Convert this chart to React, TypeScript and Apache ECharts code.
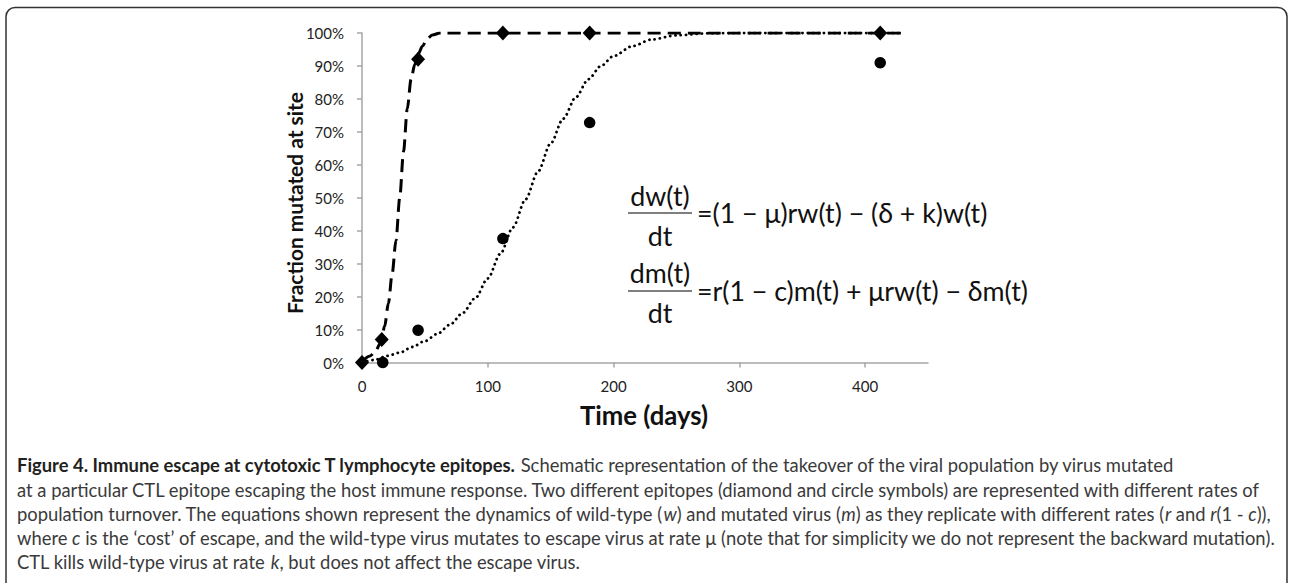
import React, { useEffect, useRef } from "react";
import * as echarts from "echarts";

// ---- data ----
const xTickValues = [0, 100, 200, 300, 400];
const yTickValues = [0, 10, 20, 30, 40, 50, 60, 70, 80, 90, 100];

// epitope 1 (diamonds), fraction mutated (%)
const diamondDays = [0, 15.7, 44.6, 112, 181, 412];
const diamondPct = [0, 7, 92, 100, 100, 100];

// epitope 2 (circles)
const circleDays = [16.5, 44.6, 112, 181, 412];
const circlePct = [0, 9.8, 37.6, 72.8, 91];

// fitted curve for epitope 1 (dashed)
const fastDays = [0, 6.4, 10, 15, 18, 21, 24, 27, 30, 33, 36, 39, 42, 45, 48, 52, 56, 62, 112, 181, 300, 430];
const fastPct = [0.3, 2, 3, 6, 11, 18, 27, 37, 50, 64, 77, 86, 90.5, 93.8, 96, 98.3, 99.4, 100, 100, 100, 100, 100];

// fitted curve for epitope 2 (dotted)
const slowDays = [0, 10, 20, 30, 40, 50, 60, 70, 80, 90, 100, 110, 120, 130, 140, 150, 160, 170, 180, 190, 200, 215, 230, 250, 275, 300, 430];
const slowPct = [0, 0.8, 2, 3, 4.7, 6.5, 8.7, 11.5, 15, 19.5, 25.5, 33, 41, 49.5, 58, 66.5, 74, 80.5, 86, 90, 93, 96, 98, 99.3, 99.9, 100, 100];

const yTitle = "Fraction mutated at site";
const xTitle = "Time (days)";

const eq1Num = "dw(t)";
const eq1Den = "dt";
const eq1Rhs = "=(1 − μ)rw(t) − (δ + k)w(t)";
const eq2Num = "dm(t)";
const eq2Den = "dt";
const eq2Rhs = "=r(1 − c)m(t) + μrw(t) − δm(t)";

const captionLines = [
  "{b|Figure 4. Immune escape at cytotoxic T lymphocyte epitopes.}{n| Schematic representation of the takeover of the viral population by virus mutated}",
  "{n|at a particular CTL epitope escaping the host immune response. Two different epitopes (diamond and circle symbols) are represented with different rates of}",
  "{n|population turnover. The equations shown represent the dynamics of wild-type (}{i|w}{n|) and mutated virus (}{i|m}{n|) as they replicate with different rates (}{i|r}{n| and }{i|r}{n|(1 - }{i|c}{n|)),}",
  "{n|where }{i|c}{n| is the ‘cost’ of escape, and the wild-type virus mutates to escape virus at rate μ (note that for simplicity we do not represent the backward mutation).}",
  "{n|CTL kills wild-type virus at rate }{i|k}{n|, but does not affect the escape virus.}",
];
const captionMeasureLine =
  "at a particular CTL epitope escaping the host immune response. Two different epitopes (diamond and circle symbols) are represented with different rates of";

const FONT = "Lato";

function fitSize(text: string, weight: string, target: number): number {
  const c = document.createElement("canvas");
  const ctx = c.getContext("2d");
  if (!ctx) return 16;
  ctx.font = `${weight} 100px ${FONT}`;
  const w = ctx.measureText(text).width;
  return (100 * target) / w;
}

export default function App() {
  const ref = useRef<HTMLDivElement>(null);

  useEffect(() => {
    if (!ref.current) return;
    const chart = echarts.init(ref.current, undefined, { renderer: "svg" });

    const eqSize = fitSize(eq1Rhs, "normal", 290);
    const yTitleSize = fitSize(yTitle, "bold", 222);
    const xTitleSize = fitSize(xTitle, "bold", 128);
    const capSize = fitSize(captionMeasureLine, "normal", 1245);

    const capRich = {
      b: { fontFamily: FONT, fontSize: capSize, fontWeight: "bold", fill: "#231f20" },
      n: { fontFamily: FONT, fontSize: capSize, fontWeight: "normal", fill: "#3a3a3a" },
      i: { fontFamily: FONT, fontSize: capSize, fontWeight: "normal", fontStyle: "italic", fill: "#3a3a3a" },
    };
    const captionY = [465, 489.5, 514, 538, 562];

    const eqText = (text: string, x: number, y: number, align: string) => ({
      type: "text",
      x,
      y,
      style: {
        text,
        fontFamily: FONT,
        fontSize: eqSize,
        fill: "#111111",
        align,
        verticalAlign: "middle",
      },
    });

    const axisGray = "#a6a6a6";

    chart.setOption({
      animation: false,
      backgroundColor: "#ffffff",
      grid: { left: 362, right: 362, top: 33, bottom: 220.5, outerBoundsMode: "none" },
      xAxis: {
        type: "value",
        min: 0,
        max: 450,
        interval: 100,
        axisLine: { show: true, lineStyle: { color: axisGray, width: 1.5 } },
        axisTick: { show: true, length: 5, customValues: xTickValues, lineStyle: { color: axisGray, width: 1.5 } },
        axisLabel: { customValues: xTickValues, margin: 16, color: "#222222", fontFamily: FONT, fontSize: 15 },
        splitLine: { show: false },
      },
      yAxis: {
        type: "value",
        min: 0,
        max: 100,
        interval: 10,
        axisLine: { show: true, lineStyle: { color: axisGray, width: 1.5 } },
        axisTick: { show: true, length: 5, customValues: yTickValues, lineStyle: { color: axisGray, width: 1.5 } },
        axisLabel: {
          customValues: yTickValues,
          margin: 18,
          color: "#222222",
          fontFamily: FONT,
          fontSize: 15,
          formatter: (v: number) => `${Math.round(v)}%`,
        },
        splitLine: { show: false },
      },
      series: [
        {
          type: "line",
          data: fastDays.map((d, i) => [d, fastPct[i]]),
          showSymbol: false,
          smooth: 0.3,
          smoothMonotone: "x",
          lineStyle: { color: "#000000", width: 3, type: [13, 7] },
          z: 2,
        },
        {
          type: "line",
          data: slowDays.map((d, i) => [d, slowPct[i]]),
          showSymbol: false,
          smooth: 0.3,
          smoothMonotone: "x",
          lineStyle: { color: "#000000", width: 2.8, type: [0.1, 5.2], cap: "round" },
          z: 2,
        },
        {
          type: "scatter",
          data: diamondDays.map((d, i) => [d, diamondPct[i]]),
          symbol: "diamond",
          symbolSize: [14, 15],
          itemStyle: { color: "#000000", opacity: 1 },
          z: 3,
        },
        {
          type: "scatter",
          data: circleDays.map((d, i) => [d, circlePct[i]]),
          symbol: "circle",
          symbolSize: 11.5,
          itemStyle: { color: "#000000", opacity: 1 },
          z: 3,
        },
      ],
      graphic: [
        {
          type: "rect",
          shape: { x: 6, y: 7.5, width: 1281, height: 590, r: 9 },
          style: { fill: "none", stroke: "#333333", lineWidth: 1.5 },
          z: 0,
        },
        {
          type: "text",
          x: 294,
          y: 203,
          rotation: Math.PI / 2,
          style: {
            text: yTitle,
            fontFamily: FONT,
            fontWeight: "bold",
            fontSize: yTitleSize,
            fill: "#111111",
            align: "center",
            verticalAlign: "middle",
          },
        },
        {
          type: "text",
          x: 644,
          y: 415,
          style: {
            text: xTitle,
            fontFamily: FONT,
            fontWeight: "bold",
            fontSize: xTitleSize,
            fill: "#111111",
            align: "center",
            verticalAlign: "middle",
          },
        },
        eqText(eq1Num, 660, 196, "center"),
        { type: "line", shape: { x1: 628, y1: 213, x2: 692, y2: 213 }, style: { stroke: "#555555", lineWidth: 1.5 } },
        eqText(eq1Den, 660, 236, "center"),
        eqText(eq1Rhs, 697, 213, "left"),
        eqText(eq2Num, 660, 273, "center"),
        { type: "line", shape: { x1: 628, y1: 291, x2: 692, y2: 291 }, style: { stroke: "#555555", lineWidth: 1.5 } },
        eqText(eq2Den, 660, 313, "center"),
        eqText(eq2Rhs, 697, 291, "left"),
        ...captionLines.map((t, i) => ({
          type: "text",
          x: 17,
          y: captionY[i],
          style: {
            text: t,
            rich: capRich,
            fontFamily: FONT,
            fontSize: capSize,
            fill: "#3a3a3a",
            align: "left",
            verticalAlign: "middle",
          },
        })),
      ],
    });

    return () => chart.dispose();
  }, []);

  return (
    <div
      ref={ref}
      style={{ position: "absolute", left: 0, top: 0, width: 1290, height: 583, background: "#ffffff" }}
    />
  );
}
